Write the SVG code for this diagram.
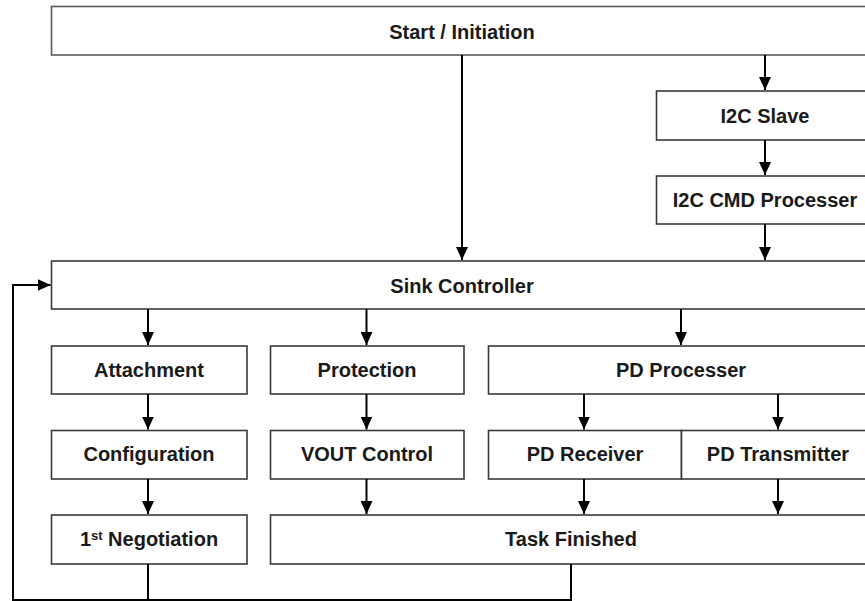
<svg xmlns="http://www.w3.org/2000/svg" width="865" height="601" viewBox="0 0 865 601">
<style>
.box{fill:#ffffff;stroke:#3a3a3a;stroke-width:1.6}
.lbl{font-family:"Liberation Sans",Arial,sans-serif;font-weight:bold;font-size:20px;fill:#1a1a1a;text-anchor:middle}
.con{fill:none;stroke:#000000;stroke-width:2}
</style>
<defs>
<marker id="ah" markerUnits="userSpaceOnUse" markerWidth="13" markerHeight="12" refX="13" refY="6" orient="auto">
<path d="M0,0 L13,6 L0,12 Z" fill="#000000"/>
</marker>
</defs>
<rect width="865" height="601" fill="#ffffff"/>

<g id="start">
<rect class="box" x="51.5" y="6.5" width="830" height="48.5" style="stroke:#5a5a5a"/>
<text class="lbl" x="462" y="39">Start / Initiation</text>
</g>
<g id="i2c-slave">
<rect class="box" x="656.5" y="91" width="220" height="49"/>
<text class="lbl" x="765" y="123">I2C Slave</text>
</g>
<g id="i2c-cmd">
<rect class="box" x="656.5" y="176" width="220" height="48"/>
<text class="lbl" x="765" y="207">I2C CMD Processer</text>
</g>
<g id="sink">
<rect class="box" x="51.5" y="261" width="830" height="48"/>
<text class="lbl" x="462" y="293">Sink Controller</text>
</g>
<g id="attachment">
<rect class="box" x="51.5" y="346" width="195.5" height="48"/>
<text class="lbl" x="149" y="377">Attachment</text>
</g>
<g id="protection">
<rect class="box" x="270.5" y="346" width="193.5" height="48"/>
<text class="lbl" x="367" y="377">Protection</text>
</g>
<g id="pd-processer">
<rect class="box" x="488.5" y="346" width="393" height="48"/>
<text class="lbl" x="681" y="377">PD Processer</text>
</g>
<g id="configuration">
<rect class="box" x="51.5" y="430.5" width="195.5" height="48.5"/>
<text class="lbl" x="149" y="461">Configuration</text>
</g>
<g id="vout">
<rect class="box" x="270.5" y="430.5" width="193.5" height="48.5"/>
<text class="lbl" x="367" y="461">VOUT Control</text>
</g>
<g id="pd-receiver">
<rect class="box" x="488.5" y="430.5" width="193" height="48.5"/>
<text class="lbl" x="585" y="461">PD Receiver</text>
</g>
<g id="pd-transmitter">
<rect class="box" x="681.5" y="430.5" width="200" height="48.5"/>
<text class="lbl" x="778" y="461">PD Transmitter</text>
</g>
<g id="negotiation">
<rect class="box" x="51.5" y="515" width="195.5" height="49"/>
<text class="lbl" x="149" y="546">1<tspan font-size="13" baseline-shift="6">st</tspan> Negotiation</text>
</g>
<g id="task-finished">
<rect class="box" x="270.5" y="515" width="611" height="49"/>
<text class="lbl" x="571" y="546">Task Finished</text>
</g>

<g id="connectors">
<path class="con" d="M462,55 V260" marker-end="url(#ah)"/>
<path class="con" d="M765,55 V90" marker-end="url(#ah)"/>
<path class="con" d="M765,140 V175" marker-end="url(#ah)"/>
<path class="con" d="M765,224 V260" marker-end="url(#ah)"/>
<path class="con" d="M148,309 V345" marker-end="url(#ah)"/>
<path class="con" d="M366.5,309 V345" marker-end="url(#ah)"/>
<path class="con" d="M681,309 V345" marker-end="url(#ah)"/>
<path class="con" d="M148,394 V429.5" marker-end="url(#ah)"/>
<path class="con" d="M366.5,394 V429.5" marker-end="url(#ah)"/>
<path class="con" d="M584,394 V429.5" marker-end="url(#ah)"/>
<path class="con" d="M778,394 V429.5" marker-end="url(#ah)"/>
<path class="con" d="M148,479 V514" marker-end="url(#ah)"/>
<path class="con" d="M366.5,479 V514" marker-end="url(#ah)"/>
<path class="con" d="M584,479 V514" marker-end="url(#ah)"/>
<path class="con" d="M778,479 V514" marker-end="url(#ah)"/>
<path class="con" d="M148,564 V600"/>
<path class="con" d="M571,564 V600 H13 V285 H50.5" marker-end="url(#ah)"/>
</g>
</svg>
